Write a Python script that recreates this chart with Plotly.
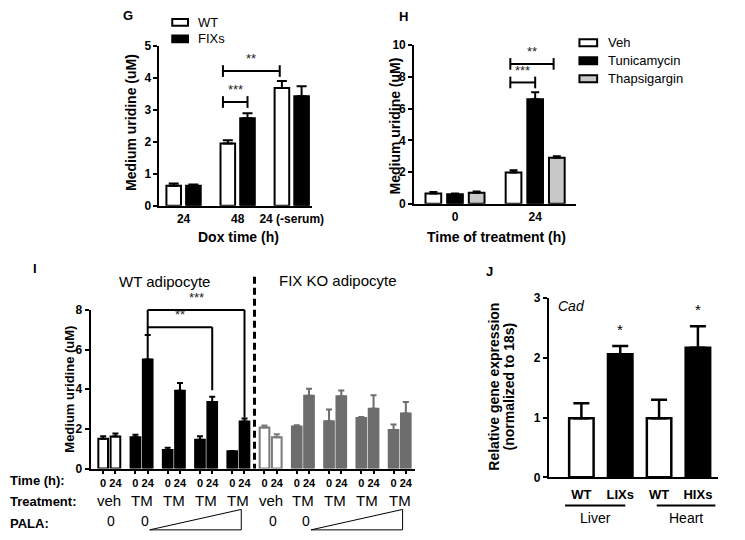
import plotly.graph_objects as go

# Page is photographed at 745x540; browser body keeps an 8px margin,
# so the figure is 729x524 and all screen coordinates are offset by 8 px.
SW, SH = 745, 540
OFF = 8
W, H = SW - 2 * OFF, SH - 2 * OFF
FONT = "Liberation Sans, Arial, Helvetica, sans-serif"

# ---------------- data ----------------
# Panel G
g_groups = ["24", "48", "24 (-serum)"]
g_wt = [0.63, 1.95, 3.69]
g_wt_err = [0.07, 0.10, 0.22]
g_fix = [0.63, 2.74, 3.43]
g_fix_err = [0.04, 0.16, 0.31]

# Panel H
h_groups = ["0", "24"]
h_series = ["Veh", "Tunicamycin", "Thapsigargin"]
h_veh = [0.65, 1.98]
h_veh_err = [0.10, 0.14]
h_tun = [0.61, 6.59]
h_tun_err = [0.04, 0.45]
h_tha = [0.69, 2.90]
h_tha_err = [0.08, 0.10]

# Panel I
i_times = ["0", "24"]
i_treat = ["veh", "TM", "TM", "TM", "TM"]
i_wt_0 = [1.50, 1.58, 0.93, 1.45, 0.87]
i_wt_0_err = [0.13, 0.12, 0.12, 0.18, 0.02]
i_wt_24 = [1.62, 5.50, 3.92, 3.36, 2.37]
i_wt_24_err = [0.15, 1.23, 0.40, 0.26, 0.15]
i_ko_0 = [2.07, 2.12, 2.38, 2.55, 1.94]
i_ko_0_err = [0.10, 0.06, 0.60, 0.05, 0.28]
i_ko_24 = [1.58, 3.67, 3.64, 3.02, 2.78]
i_ko_24_err = [0.15, 0.35, 0.30, 0.67, 0.58]

# Panel J
j_labels = ["WT", "LIXs", "WT", "HIXs"]
j_vals = [0.99, 2.06, 0.99, 2.17]
j_err = [0.25, 0.14, 0.31, 0.36]
j_tissues = ["Liver", "Heart"]

# ---------------- geometry (screen pixels) ----------------
PAN = {
    'G': dict(px=(162, 317), py=(204, 40), xr=(-0.4455, 2.3727), yr=(0, 5)),
    'H': dict(px=(421, 585), py=(202, 39), xr=(-0.509, 1.503), yr=(0, 10)),
    'I': dict(px=(92, 422), py=(474, 311), xr=(-0.579, 9.48), yr=(0, 8)),
    'J': dict(px=(558, 730), py=(483, 299), xr=(-0.835, 3.52), yr=(0, 3)),
}


def PX(x):
    return (x - OFF) / W


def PY(y):
    return 1 - (y - OFF) / H


def fx(p, v):
    g = PAN[p]
    x0, x1 = g['px']
    r0, r1 = g['xr']
    return PX(x0 + (v - r0) / (r1 - r0) * (x1 - x0))


def fy(p, v):
    g = PAN[p]
    y0, y1 = g['py']
    r0, r1 = g['yr']
    return PY(y0 + (v - r0) / (r1 - r0) * (y1 - y0))


fig = go.Figure()
shapes = []
annots = []


def line(x0, y0, x1, y1, width=2, color='black', dash=None):
    d = dict(type='line', xref='paper', yref='paper', x0=x0, y0=y0, x1=x1, y1=y1,
             line=dict(color=color, width=width))
    if dash:
        d['line']['dash'] = dash
    shapes.append(d)


def text(x, y, s, size=13, bold=False, xanchor='center', yanchor='middle',
         angle=0, color='black', italic=False, xref='paper'):
    annots.append(dict(x=x, y=y, xref=xref, yref='paper', text=s, showarrow=False,
                       xanchor=xanchor, yanchor=yanchor, textangle=angle,
                       font=dict(family=FONT, size=size, color=color,
                                 weight='bold' if bold else 'normal',
                                 style='italic' if italic else 'normal')))


def err(arr, color='black', width=4, thick=2):
    return dict(type='data', array=arr, arrayminus=[0] * len(arr), symmetric=False,
                color=color, thickness=thick, width=width, visible=True)


def bracket(p, xa, xb, level, label, cap=6):
    yy = fy(p, level)
    line(fx(p, xa), yy, fx(p, xb), yy)
    for xv in (xa, xb):
        line(fx(p, xv), yy - cap / H, fx(p, xv), yy + cap / H)
    text((fx(p, xa) + fx(p, xb)) / 2, yy + 3 / H, label, size=13, color='#222',
         yanchor='bottom')


# ---------------- Panel G ----------------
gx = list(range(len(g_groups)))
go_off, g_w = 0.182, 0.27
fig.add_bar(x=[v - go_off for v in gx], y=g_wt, width=g_w,
            marker=dict(color='white', line=dict(color='black', width=2)),
            error_y=err(g_wt_err, width=5), xaxis='x', yaxis='y', showlegend=False)
fig.add_bar(x=[v + go_off for v in gx], y=g_fix, width=g_w,
            marker=dict(color='black', line=dict(color='black', width=2)),
            error_y=err(g_fix_err, width=5), xaxis='x', yaxis='y', showlegend=False)
bracket('G', gx[1] - go_off - 0.09, gx[1] + go_off, 3.25, '***')
bracket('G', gx[1] - go_off - 0.09, gx[2] - go_off - 0.04, 4.22, '**')

# legend G
for i, (nm, fc) in enumerate([("WT", 'white'), ("FIXs", 'black')]):
    yc = [15.5, 32.5][i]
    shapes.append(dict(type='rect', xref='paper', yref='paper', x0=PX(175), x1=PX(191),
                       y0=PY(yc + 3.5), y1=PY(yc - 3.5), fillcolor=fc,
                       line=dict(color='black', width=2)))
    text(PX(199), PY(yc), nm, size=13, xanchor='left')

# ---------------- Panel H ----------------
hx = list(range(len(h_groups)))
h_off, h_w = 0.27, 0.196
h_fill = ['white', 'black', '#c8c8c8']
for j, (vals, errs) in enumerate([(h_veh, h_veh_err), (h_tun, h_tun_err), (h_tha, h_tha_err)]):
    fig.add_bar(x=[v + (j - 1) * h_off for v in hx], y=vals, width=h_w,
                marker=dict(color=h_fill[j], line=dict(color='black', width=2)),
                error_y=err(errs, width=4), xaxis='x2', yaxis='y2', showlegend=False)
bracket('H', hx[1] - h_off - 0.04, hx[1], 7.65, '***')
bracket('H', hx[1] - h_off - 0.04, hx[1] + h_off - 0.04, 8.82, '**')
for j, nm in enumerate(h_series):
    yc = [36.5, 55, 73.5][j]
    shapes.append(dict(type='rect', xref='paper', yref='paper', x0=PX(589), x1=PX(607),
                       y0=PY(yc + 3.5), y1=PY(yc - 3.5), fillcolor=h_fill[j],
                       line=dict(color='black', width=2)))
    text(PX(616), PY(yc), nm, size=13, xanchor='left')

# ---------------- Panel I ----------------
i_off, i_w = 0.19, 0.30
KO = '#6d6d6d'
KO_LINE = '#7a7a7a'
pairs_wt = list(range(5))
pairs_ko = [k + 5 for k in range(5)]


def ibars(pairs, v0, e0, v24, e24, idx, fill, lc):
    xs, ys, es = [], [], []
    for k in idx:
        xs += [pairs[k] - i_off, pairs[k] + i_off]
        ys += [v0[k], v24[k]]
        es += [e0[k], e24[k]]
    fig.add_bar(x=xs, y=ys, width=i_w,
                marker=dict(color=fill, line=dict(color=lc, width=2)),
                error_y=err(es, color=lc, width=3), xaxis='x3', yaxis='y3', showlegend=False)


ibars(pairs_wt, i_wt_0, i_wt_0_err, i_wt_24, i_wt_24_err, [0], 'white', 'black')
ibars(pairs_wt, i_wt_0, i_wt_0_err, i_wt_24, i_wt_24_err, [1, 2, 3, 4], 'black', 'black')
ibars(pairs_ko, i_ko_0, i_ko_0_err, i_ko_24, i_ko_24_err, [0], 'white', KO_LINE)
ibars(pairs_ko, i_ko_0, i_ko_0_err, i_ko_24, i_ko_24_err, [1, 2, 3, 4], KO, KO)

# brackets I
xl = pairs_wt[1] + i_off
xr3 = pairs_wt[3] + i_off
xr4 = pairs_wt[4] + i_off
top_l = i_wt_24[1] + i_wt_24_err[1]
line(fx('I', xl), fy('I', 8.0), fx('I', xl), fy('I', top_l))
line(fx('I', xl), fy('I', 8.0), fx('I', xr4), fy('I', 8.0))
line(fx('I', xr4), fy('I', 8.0), fx('I', xr4), fy('I', i_wt_24[4] + i_wt_24_err[4] + 0.05))
line(fx('I', xl), fy('I', 7.13), fx('I', xr3), fy('I', 7.13))
line(fx('I', xr3), fy('I', 7.13), fx('I', xr3), fy('I', 3.95))
text((fx('I', xl) + fx('I', xr4)) / 2, fy('I', 8.0) + 3 / H, '***', size=13, color='#222', yanchor='bottom')
text((fx('I', xl) + fx('I', xr3)) / 2, fy('I', 7.13) + 3 / H, '**', size=13, color='#222', yanchor='bottom')

# dashed separator
line(fx('I', 4.5), PY(277), fx('I', 4.5), PY(474), width=3, dash='7px,4px')

# titles I
text(PX(167.5), PY(282), 'WT adipocyte', size=15)
text(PX(344), PY(281), 'FIX KO adipocyte', size=15)

# row labels
text(PX(8), PY(486), 'Time (h):', size=13, bold=True, xanchor='left')
text(PX(8), PY(508), 'Treatment:', size=13, bold=True, xanchor='left')
text(PX(8), PY(530), 'PALA:', size=13, bold=True, xanchor='left')
for k, t in enumerate(i_treat):
    text(pairs_wt[k], PY(507), t, size=15, xref='x3')
    text(pairs_ko[k], PY(507), i_treat[k], size=15, xref='x3')
for base in (pairs_wt, pairs_ko):
    text(base[0] + 0.06, PY(528), '0', size=14, xref='x3')
    text(base[1] + 0.1, PY(528), '0', size=14, xref='x3')
    xa, xb = fx('I', base[1] + 0.25), fx('I', base[4] + 0.09)
    shapes.append(dict(type='path', xref='paper', yref='paper',
                       path=f'M {xa},{PY(537)} L {xb},{PY(537)} L {xb},{PY(516)} Z',
                       line=dict(color='black', width=1)))

i_tickvals, i_ticktext = [], []
for k in range(10):
    i_tickvals += [k - i_off, k + i_off]
    i_ticktext += i_times

# ---------------- Panel J ----------------
jx = list(range(len(j_labels)))
j_fill = ['white', 'black', 'white', 'black']
fig.add_bar(x=jx, y=j_vals, width=0.63,
            marker=dict(color=j_fill, line=dict(color='black', width=2.5)),
            error_y=err(j_err, width=8, thick=2.5), xaxis='x4', yaxis='y4', showlegend=False)
text(fx('J', jx[1]), fy('J', j_vals[1] + j_err[1] + 0.1), '*', size=15, yanchor='bottom')
text(fx('J', jx[3]), fy('J', j_vals[3] + j_err[3] + 0.1), '*', size=15, yanchor='bottom')
text(PX(565), PY(307), 'Cad', size=14, italic=True, xanchor='left')
for t, (a, b) in zip(j_tissues, [(-0.42, 1.13), (1.94, 3.45)]):
    line(fx('J', a), PY(512), fx('J', b), PY(512), width=2)
    text((fx('J', a) + fx('J', b)) / 2, PY(525), t, size=14)

# ---------------- axis titles & panel letters ----------------
text(PX(133), PY(118), 'Medium uridine (uM)', size=14, bold=True, angle=-90)
text(PX(401), PY(122), 'Medium uridine (uM)', size=14, bold=True, angle=-90)
text(PX(71), PY(392), 'Medium uridine (uM)', size=13, bold=True, angle=-90)
text(PX(502), PY(390), 'Relative gene expression', size=14, bold=True, angle=-90)
text(PX(517), PY(390), '(normalized to 18s)', size=14, bold=True, angle=-90)
text(PX(242.5), PY(236), 'Dox time (h)', size=14, bold=True)
text(PX(505), PY(236), 'Time of treatment (h)', size=14, bold=True)
for lt, (x, y) in {'G': (130, 9), 'H': (410, 10), 'I': (35, 268), 'J': (498, 272)}.items():
    text(PX(x), PY(y), lt, size=13, bold=True)

# ---------------- axes ----------------
TF = dict(family=FONT, size=12, color='black', weight='bold')


def xax(p, anchor, tickvals, ticktext, ticks='', size=12, standoff=0):
    g = PAN[p]
    return dict(domain=[PX(g['px'][0]), PX(g['px'][1])], range=list(g['xr']), anchor=anchor,
                showline=True, linecolor='black', linewidth=2, showgrid=False, zeroline=False,
                ticks=ticks, ticklen=3, tickwidth=1.5, tickcolor='black',
                tickvals=tickvals, ticktext=ticktext, ticklabelstandoff=standoff,
                tickfont=dict(family=FONT, size=size, color='black', weight='bold'),
                fixedrange=True)


def yax(p, anchor, dtick):
    g = PAN[p]
    return dict(domain=[PY(g['py'][0]), PY(g['py'][1])], range=list(g['yr']),
                anchor=anchor, showline=True, linecolor='black', linewidth=2,
                showgrid=False, zeroline=False, ticks='outside', ticklen=4, tickwidth=2,
                tickcolor='black', dtick=dtick, tick0=0, tickfont=TF, fixedrange=True)


fig.update_layout(
    width=W, height=H, margin=dict(l=0, r=0, t=0, b=0),
    paper_bgcolor='white', plot_bgcolor='rgba(0,0,0,0)',
    barmode='overlay', showlegend=False,
    font=dict(family=FONT, color='black'),
    xaxis=xax('G', 'y', gx, g_groups, standoff=1),
    yaxis=yax('G', 'x', 1),
    xaxis2=xax('H', 'y2', hx, h_groups, standoff=1),
    yaxis2=yax('H', 'x2', 2),
    xaxis3=xax('I', 'y3', i_tickvals, i_ticktext, ticks='outside', size=11),
    yaxis3=yax('I', 'x3', 2),
    xaxis4=xax('J', 'y4', jx, j_labels, size=13, standoff=4),
    yaxis4=yax('J', 'x4', 1),
    shapes=shapes, annotations=annots,
)

fig.write_html("out.html", config={'displayModeBar': False})
